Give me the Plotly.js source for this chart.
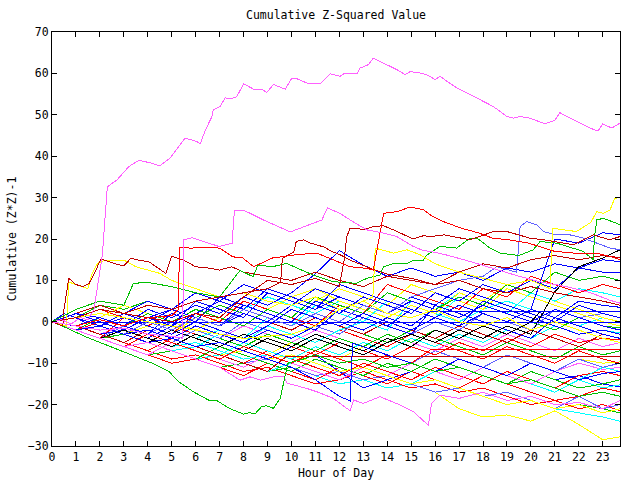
<!DOCTYPE html>
<html><head><meta charset="utf-8">
<script src="https://cdn.plot.ly/plotly-3.0.1.min.js"></script>
<style>html,body{margin:0;padding:0;background:#fff}#chart{width:640px;height:480px}
#chart path.js-line{shape-rendering:crispEdges}</style>
</head><body><div id="chart"></div>
<script>
// hourly grid used by most series
const HOURS = [0,1,2,3,4,5,6,7,8,9,10,11,12,13,14,15,16,17,18,19,20,21,22,23,23.72];

// ---- series with their own hour positions ----
const M1_H = [0,0.4,0.8,1.2,1.5,1.75,2.1,2.31,2.72,3.21,3.63,4.1,4.5,4.94,5.56,6.06,6.19,6.4,6.68,6.73,7.02,7.23,7.44,7.72,8.0,8.48,8.76,8.97,9.25,9.74,10.02,10.23,10.71,11.2,11.61,12.03,12.24,12.73,12.87,13.21,13.42,13.7,13.98,14.4,14.75,14.95,15.3,15.65,16.0,16.21,16.49,16.9,17.32,17.88,18.43,18.99,19.27,19.55,19.96,20.59,21.0,21.21,21.84,22.46,22.8,23.0,23.38,23.72];
const M1_V = [0,0.5,-0.5,1,0.5,2.9,16,32.6,34.3,37.5,39,38.4,37.7,39.6,44.4,43.5,43,46.2,49.6,51.2,52,54.1,53.8,54.4,57.5,56,56.2,55.4,57.3,56.2,58.9,58.7,57.5,57.5,59.9,59.3,60.1,59.9,61.3,62.1,63.7,62.9,62.3,60.9,59.7,60.4,60.2,59.7,58.5,59.3,58.1,56.5,55.3,53.6,52,49.6,49.2,49.6,49.2,47.8,48.7,50.5,48.7,46.8,46.1,47.8,46.8,48];

const M2_H = [0,1,2,3,4,5,5.45,5.51,5.86,6.97,7.52,7.62,7.97,8.28,8.83,9.95,10.36,11.06,11.27,11.5,12.03,12.45,13.15,13.7,14.4,15.09,15.51,15.82,16.5,17.5,18.5,19.5,20.5,21.5,22.5,23.3,23.72];
const M2_V = [0,-1,-2,-1.5,-3,-3.5,-4,19.8,20.3,18.2,19,27,27,26.2,24.6,21.7,22.6,24.2,24.6,27.5,26.2,24.6,22.2,21.6,20.6,18.2,17.2,17,16.1,14.5,12.8,11,9.5,8.5,7,5.2,4.5];

const R1_H = [0,1,2,3,4,5,5.28,5.32,5.8,6.5,7.0,7.55,7.97,8.42,9.2,10.2,11.06,11.75,12.45,13.15,13.42,13.85,14.4,14.95,15.5,15.8,16.35,17.1,17.8,18.4,19.1,19.9,21.0,21.8,22.7,23.3,23.72];
const R1_V = [0,-1,0.5,-1,1,1.5,3,18,17.8,18,17.8,15.7,15.4,13.3,15.4,16.2,16.6,14.9,13.3,12.9,12.5,26.2,26.6,27.7,27.1,25.8,24.2,22.6,21.5,20.2,19.8,19,17,16.6,16.6,15.8,15];

const DR1_H = [0,0.45,0.5,0.7,1.0,1.3,1.55,1.8,2.03,2.2,2.65,3.0,3.3,3.6,4.05,4.3,4.75,5.0,5.5,6,6.5,7,7.5,8,9,10,11,12,13,14,15,16,17,18,19,20,21,22,23,23.72];
const DR1_V = [0,-1,3,10.5,9,8.5,9.3,12,15.1,14.9,14,13.5,15.4,14.9,14.5,13.5,11.7,15.8,14.9,13.3,13,12.5,13.3,12,11,10,12,10,8.5,11,10,9,12,14,13,15,16,15,16,15.5];

const DR2_H = [0,1,2,3,4,5,6,7,8,9,9.55,9.62,10.1,10.2,10.5,10.8,11.4,11.6,12.03,12.45,13.3,14,15,16,17,18,19,20,21,22,23,23.72];
const DR2_V = [0,1,3,2,4,3,5,6,7,8,9.6,15.3,16.9,19.4,19.8,19,18,17.2,16.2,14.9,12.9,11.5,10.5,9,10,8,7,8.5,7,6,5,4];

const DR3_H = [0,1,2,3,4,5,6,7,8,9,10,11,12.0,12.2,12.31,12.45,12.73,13.0,13.42,13.84,14.26,15.09,15.51,15.82,16.37,17.46,18.43,19.0,19.96,20.66,21.77,22.6,23.3,23.72];
const DR3_V = [0,1,3,2,1,0,2,1,6,10,9,10.5,8.5,14.9,20.6,22.6,22.6,22.2,23,23.2,22.2,20,20.8,20.6,21,19.8,21.8,21.8,20.2,19.7,18.6,21,19.8,20.6];

const Y1_H = [0,2,4,6,8,10,11,12,13,13.4,13.5,14.26,14.82,15.37,16,17,18,19,20,20.8,20.9,21.9,22.5,22.75,23.02,23.3,23.5,23.72];
const Y1_V = [0,2,0,-2,-4,-3,-1,3,5,6,17.8,16.6,17.4,16.2,14,12,10.5,9,10,8,22.6,21.8,24,26.6,26.2,27,29.8,30];

const Y2_H = [0,0.6,0.7,1.5,1.65,1.9,2.2,3.0,3.5,4.0,4.5,5,6,7,8,9,10,11,12,13,14,15,16,17,18,19,20,21,22,23,23.72];
const Y2_V = [0,-1,9.6,8,11.3,14.1,14.9,14.9,13.3,12.5,11.7,10,8,6,7,5,4,6,3,5,2,1,3,0,-1,1,-2,0,-2,-4,-5];

const G2_H = [0,1,2,3,3.4,4,5,6,7,7.85,8.4,8.6,9.2,9.8,10.9,11.75,12.7,13.15,13.7,13.84,14.26,14.82,15.1,15.51,15.65,16.2,16.9,17.46,17.8,18.29,18.71,19.5,20.1,20.38,21.08,21.6,22.19,22.6,22.65,22.75,23.02,23.58,23.72];
const G2_V = [0,3,5,4,9.3,9.5,8.5,7,6,12.4,10.9,13.7,13.3,14.1,11.3,9.7,9.3,10.5,11.3,13.3,14.1,14.1,14.9,14.9,16.1,18.2,17.8,20.2,20,17.8,16.6,16,17.4,19.4,19,18,17,15,20.2,24.6,25,23.8,23.4];

const G1_H = [0,0.5,1.4,2.8,3.49,4.19,4.88,5.3,5.9,6.6,6.85,7.4,8.0,8.2,8.5,8.75,8.95,9.25,9.53,9.67,9.85,10.5,11,12,13,14,15,16,17,18,19,20,21,22,23,23.72];
const G1_V = [0,-1.2,-3.6,-6.8,-8.4,-10,-12,-14.5,-16.9,-19.1,-18.9,-20.9,-22.3,-22,-22.1,-20.5,-20.3,-20.9,-18.5,-14.8,-10,-9,-8,-10,-9,-11,-10,-12,-11,-13,-15,-14,-16,-18,-17,-18];

const M3_H = [0,1,2,3,4,5,6,7,7.85,8.27,8.7,9.26,9.67,9.81,10.64,11.06,11.75,12.45,12.6,13.0,13.7,14.54,15.09,15.72,15.85,16.2,17,18,19,20,21,22,23,23.72];
const M3_V = [0,-2,-4,-6,-5,-7,-9,-11,-14.1,-13.3,-14.1,-13.3,-13.1,-14.8,-16.1,-16.9,-18.5,-21.5,-18.9,-19.7,-18.1,-20.1,-21.7,-25,-19.7,-17.7,-18.5,-17,-19,-18,-20,-19.5,-21,-19];

const B5_H = [0,1,2,3,4,5,6,7,8,9,10,11,12,12.45,12.55,13,14,15,16,17,18,19,20,21,22,23,23.72];
const B5_V = [0,-2,-1,-3,-5,-4,-6,-5,-7,-9,-11,-14,-18,-19.1,-5.2,-6,-8,-10,-12,-9,-11,-13,-10,-12,-14,-12.5,-12];

const LB1_H = [0,1,2,3,4,5,6,7,8,9,10,11,12,13,14,15,16,17,18,18.57,19.4,19.55,19.82,20.24,20.52,21.08,21.63,22.19,22.75,23.31,23.72];
const LB1_V = [0,-2,-1,-3,0,-2,1,-1,3,1,-1,2,0,4,2,6,8,10,11,13.3,12,23,24.2,23.4,21.8,21,21,20.2,19,17.8,17.4];

const BF0_H = [0,0.5,1.0,1.4,23.72];
const BF0_V = [0,2,1,-0.2,-0.2];
const BF2_H = [0,1,2,3,4,5,6,7,8,9,10,11,12,13,14,15,15.8,23.72];
const BF2_V = [0,-2,-1,-3,-2,-4,-1,-3,-5,-2,-4,-1,0,-2,1,-1,2.4,2.4];
const RF_H = [0,1,2,3,4,5,6,7,8,9,10,11,12,13,14,15,15.8,23.72];
const RF_V = [0,-2,-4,-6,-3,-5,-7,-9,-6,-8,-10,-7,-9,-11,-8,-10,-6.8,-6.8];
const DRF_H = [0,1,2,3,4,5,6,7,8,9,9.8,23.72];
const DRF_V = [0,-1,-3,-5,-2,-4,-6,-8,-10,-12,-8.3,-8.3];
const K1_H = [0,1,2,3,4,5,6,7,8,9,10,11,12,13,14,15,16,17,18,19,20,20.4,23.72];
const K1_V = [0,-2,-4,-2,-4,-6,-3,-5,-7,-4,-6,-3,-5,-7,-4,-6,-2,-4,-1,-3,0,2.5,2.5];

// ---- series on the hourly grid ----
const B1 = [0,1,-1,2,0,3,1,-1,4,2,0,5,3,1,-1,3,1,-1,2,0,3,20,19,21.5,21];
const B2 = [0,-1,1,-1,3,1,4,2,6,4,7,11.6,17.2,13.7,11,13,11,12,10,13,12,14,13,15,14.5];
const B3 = [0,2,0,-2,1,-1,2,5,3,8,6,4,2,6,4,2,7,5,9,7,10,8,13,12,12];
const G3 = [0,-2,1,-1,2,0,3,1,-1,3,1,6,4,2,7,5,3,6,4,9,7,12,10,11,10];
const R2 = [0,-2,-4,1,-1,-3,2,0,5,3,1,-1,4,2,9,7,5,3,8,6,11,9,7,9,8];
const C1 = [0,-2,-1,-3,0,-2,-4,-2,-4,1,-1,4,2,0,5,3,1,6,4,2,7,5,8,7,6];
const B4 = [0,1,-1,1,-1,-3,0,-2,-4,-1,3,1,-1,2,0,-2,1,4,2,0,3,1,5,4,3.5];
const LB2 = [0,-2,-4,-1,-3,-5,-2,-4,0,-2,-4,-1,-3,1,-1,-3,0,-2,2,0,-2,3,1,2,1];
const G4 = [0,-2,-4,-1,-3,-5,-2,-4,-6,-3,-5,-7,-4,-6,-3,-5,-2,-4,-1,-3,0,-2,1,-1,-1.5];
const C2 = [0,-1,-3,-5,-2,-4,-6,-8,-5,-7,-9,-6,-8,-5,-7,-4,-6,-3,-5,-2,-4,-1,-3,-2,-2.7];
const R3 = [0,-2,0,-2,-4,-1,-3,-5,-7,-4,-6,-8,-5,-7,-9,-6,-8,-5,-7,-4,-6,-3,-5,-4,-4.4];
const Y3 = [0,-2,-4,-6,-3,-5,-2,-4,-6,-8,-5,-7,-9,-6,-8,-10,-12,-9,-11,-13,-10,-12,-9,-10,-9.7];
const M4 = [0,-2,-4,-6,-8,-5,-7,-9,-11,-8,-10,-12,-14,-11,-13,-10,-12,-14,-11,-13,-15,-12,-10,-11.5,-11];
const R4 = [0,-1,-3,-5,-7,-4,-6,-8,-10,-7,-9,-11,-13,-10,-12,-14,-11,-13,-15,-12,-14,-16,-13,-12,-13];
const G5 = [0,-2,-4,-3,-5,-7,-9,-6,-8,-10,-12,-9,-11,-13,-10,-12,-9,-11,-13,-15,-12,-14,-16,-15,-14];
const C3 = [0,-2,-4,-6,-5,-7,-6,-8,-10,-12,-10,-12,-14,-11,-13,-15,-12,-14,-11,-13,-15,-17,-14,-16,-15.2];
const B6 = [0,-1,-3,-2,-4,-6,-3,-5,-7,-9,-6,-8,-12,-16,-14,-12,-9,-11,-13,-15,-12,-14,-13,-15,-15.7];
const R5 = [0,-2,-4,-6,-8,-10,-9,-11,-13,-10,-12,-14,-11,-13,-15,-12,-14,-16,-13,-15,-17,-19,-18,-16,-16.9];
const LB3 = [0,-2,-4,-3,-5,-7,-6,-8,-10,-9,-11,-13,-12,-14,-13,-15,-17,-16,-18,-17,-19,-21,-18,-21,-20];
const G7 = [0,-2,-4,-6,-8,-7,-9,-11,-10,-12,-11,-13,-12,-14,-13,-15,-17,-16,-18,-17,-19,-21,-20,-21,-22];
const R6 = [0,-1,-3,-5,-7,-9,-8,-10,-12,-11,-13,-15,-14,-12,-14,-16,-15,-17,-16,-18,-20,-19,-21,-20,-21.5];
const C4 = [0,-2,-4,-6,-5,-7,-9,-8,-10,-12,-11,-13,-15,-14,-16,-15,-17,-16,-18,-20,-19,-21,-22,-23,-24];
const Y4 = [0,-2,-4,-3,-5,-7,-6,-8,-10,-9,-11,-13,-12,-14,-16,-15,-17,-21,-23,-22.5,-24,-21.5,-24.8,-28.5,-27.8];
const Y5 = [0,-2,-1,-3,-5,-4,-6,-8,-7,-9,-8,-10,-12,-11,-13,-15,-14,-16,-18,-20,-19,-21,-20,-22,-21];
const B7 = [0,1,3,2,5,3,7,5,9,7,5,3,6,4,2,5,3,1,4,2,0,3,1,-1,-2];
const B8 = [0,2,0,-2,1,3,1,-1,2,0,4,8,6,4,2,6,4,8,6,4,2,0,4,2,1];
const B9 = [0,-1,-3,-2,-4,-1,5,3,1,7,5,3,9,7,5,3,1,-1,5,3,1,-1,-3,-2,-3];
const B10 = [0,2,1,-1,-3,2,0,6,4,2,0,-2,3,1,-1,-3,4,2,0,-2,-4,1,-1,-3,-4];
const C5 = [0,1,-1,2,0,-2,1,-1,3,6,4,2,5,3,1,4,2,0,3,5,3,1,-1,1,0];
const C7 = [0,-1,-3,-5,-2,-4,-6,-3,-5,-1,-3,-5,-2,0,-2,5,3,7,5,9,7,5,3,1,0];
const Y6 = [0,-1,1,4,2,0,-2,1,-1,3,6,8,5,3,1,4,2,7,5,9,7,5,3,1,0];
const Y7 = [0,-2,-1,-3,-1,-3,1,-1,4,2,0,5,8,6,4,9,7,5,3,8,6,4,2,0,-1];
const M5 = [0,-1,-3,-1,-3,-5,-2,-4,-1,-3,-5,-2,-4,-6,-3,-5,-7,-4,-6,-3,-5,-7,-4,-6,-5];
const R7 = [0,1,3,1,-1,2,0,-2,-4,-1,-3,-5,-2,-4,-6,-3,-5,-7,-9,-6,-8,-10,-7,-9,-10];
const DR4 = [0,2,4,2,0,3,1,-1,2,0,-2,1,-1,-3,0,-2,-4,-1,-3,-5,-2,-4,-6,-3,-4];
const LB4 = [0,-1,1,-1,-3,0,-2,-4,-6,-3,-5,-7,-4,-6,-8,-10,-7,-9,-11,-8,-10,-12,-9,-11,-10];
const C6 = [0,-1,-3,-2,-4,-6,-5,-7,-9,-8,-10,-7,-9,-11,-8,-10,-12,-9,-11,-13,-10,-12,-14,-11,-12];
const G8 = [0,1,4,3,5,3,1,4,2,0,-2,1,-1,-3,-5,-2,-4,-6,-8,-5,-7,-9,-6,-8,-7];
const K2 = [0,-2,-1,-3,-5,-2,-4,-6,-3,-5,-7,-4,-6,-8,-5,-3,-5,-2,-4,-1,-3,7.3,13.3,15.4,17.4];

const X_TICKS = [0,1,2,3,4,5,6,7,8,9,10,11,12,13,14,15,16,17,18,19,20,21,22,23];

const COL = {
  red:'#ff0000', dred:'#c00000', green:'#00c000', blue:'#0000ff', lblue:'#6060ff',
  mag:'#ff60ff', cyan:'#00ffff', yel:'#ffff00', black:'#000000'
};

const series = [
  [HOURS,Y4,'yel'],[HOURS,C4,'cyan'],[HOURS,R6,'red'],[HOURS,G7,'green'],[HOURS,LB3,'lblue'],
  [HOURS,R5,'red'],[HOURS,B6,'blue'],[HOURS,C3,'cyan'],[HOURS,G5,'green'],[HOURS,R4,'red'],
  [HOURS,M4,'mag'],[HOURS,Y3,'yel'],[HOURS,Y5,'yel'],[HOURS,C6,'cyan'],[HOURS,LB4,'lblue'],
  [HOURS,R7,'red'],[HOURS,M5,'mag'],[HOURS,R3,'red'],[HOURS,C2,'cyan'],[HOURS,G4,'green'],
  [HOURS,G8,'green'],[HOURS,DR4,'dred'],[HOURS,LB2,'lblue'],[HOURS,C5,'cyan'],[HOURS,C7,'cyan'],
  [HOURS,Y6,'yel'],[HOURS,Y7,'yel'],
  [HOURS,C1,'cyan'],[HOURS,R2,'red'],[HOURS,G3,'green'],[HOURS,B4,'blue'],[HOURS,B7,'blue'],
  [HOURS,B8,'blue'],[HOURS,B9,'blue'],[HOURS,B10,'blue'],[HOURS,B3,'blue'],[HOURS,B2,'blue'],
  [HOURS,B1,'blue'],[HOURS,K2,'black'],
  [K1_H,K1_V,'black'],[DRF_H,DRF_V,'dred'],[RF_H,RF_V,'red'],[BF2_H,BF2_V,'blue'],[BF0_H,BF0_V,'blue'],
  [LB1_H,LB1_V,'lblue'],[B5_H,B5_V,'blue'],[M3_H,M3_V,'mag'],[G1_H,G1_V,'green'],
  [Y2_H,Y2_V,'yel'],[DR1_H,DR1_V,'dred'],[G2_H,G2_V,'green'],[Y1_H,Y1_V,'yel'],
  [DR3_H,DR3_V,'dred'],[DR2_H,DR2_V,'dred'],[R1_H,R1_V,'red'],[M2_H,M2_V,'mag'],[M1_H,M1_V,'mag']
];

const traces = series.map(s => ({
  x: s[0], y: s[1], type: 'scatter', mode: 'lines',
  line: {color: COL[s[2]], width: 1}, hoverinfo: 'skip'
}));

const FONT = {family: '"DejaVu Sans Mono", "Liberation Mono", monospace', size: 11.5, color: '#000'};

const axisCommon = {
  showline: true, linecolor: '#000', linewidth: 1, mirror: 'ticks',
  ticks: 'inside', ticklen: 5, tickcolor: '#000', tickwidth: 1,
  showgrid: false, zeroline: false, tickfont: FONT
};

const layout = {
  width: 640, height: 480,
  margin: {l: 52, r: 20, t: 32, b: 34},
  paper_bgcolor: '#fff', plot_bgcolor: '#fff',
  showlegend: false, font: FONT,
  title: {text: 'Cumulative Z-Squared Value', x: 0.525, xanchor: 'center', y: 0.968, yanchor: 'middle', font: FONT},
  xaxis: Object.assign({}, axisCommon, {
    range: [0, 23.72], tickvals: X_TICKS, ticktext: X_TICKS.map(String),
    title: {text: 'Hour of Day', font: FONT, standoff: 6}
  }),
  yaxis: Object.assign({}, axisCommon, {
    range: [-30, 70], dtick: 10, tick0: 0,
    title: {text: 'Cumulative (Z*Z)-1', font: FONT, standoff: 8}
  })
};

Plotly.newPlot('chart', traces, layout, {staticPlot: true, displayModeBar: false});
</script>
</body></html>
